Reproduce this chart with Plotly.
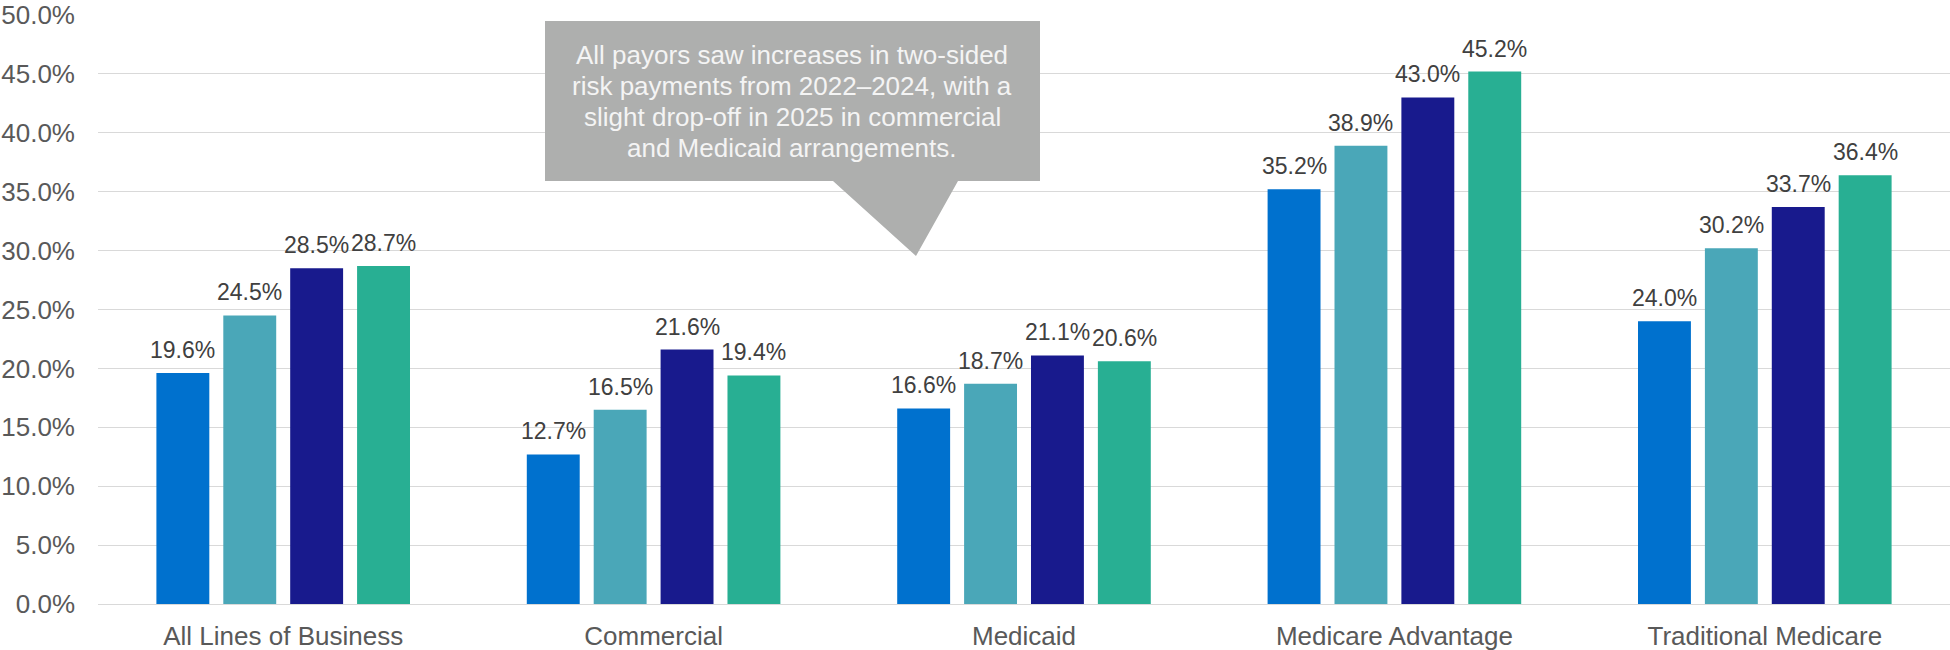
import plotly.graph_objects as go

# Share of payments under two-sided risk arrangements, by line of business
categories = ["All Lines of Business", "Commercial", "Medicaid",
              "Medicare Advantage", "Traditional Medicare"]
years = ["2022", "2023", "2024", "2025"]
values_2022 = [19.6, 12.7, 16.6, 35.2, 24.0]
values_2023 = [24.5, 16.5, 18.7, 38.9, 30.2]
values_2024 = [28.5, 21.6, 21.1, 43.0, 33.7]
values_2025 = [28.7, 19.4, 20.6, 45.2, 36.4]
series_values = [values_2022, values_2023, values_2024, values_2025]
series_colors = ["#0071CE", "#4AA7B8", "#181A8D", "#28AF93"]

callout_lines = [
    "All payors saw increases in two-sided",
    "risk payments from 2022\u20132024, with a",
    "slight drop-off in 2025 in commercial",
    "and Medicaid arrangements.",
]

W, H = 1950, 650
M_L, M_R, M_T, M_B = 98, 0, 15, 46
PLOT_W = W - M_L - M_R
PLOT_H = H - M_T - M_B
FONT = "Arial, 'Liberation Sans', sans-serif"

BARGAP = 0.2776
BARGROUPGAP = 0.209
X_RANGE = [-0.5, 4.5]


def px_to_paper(px, py):
    """Convert a page pixel position to paper coordinates."""
    return (px - M_L) / PLOT_W, (H - M_B - py) / PLOT_H


fig = go.Figure()
for name, vals, color in zip(years, series_values, series_colors):
    fig.add_trace(go.Bar(
        name=name,
        x=categories,
        y=vals,
        marker=dict(color=color, line=dict(width=0)),
    ))

# Value labels above each bar, offset to the bar's slot within its group
n_series = len(series_values)
slot_px = (1 - BARGAP) / n_series * PLOT_W / (X_RANGE[1] - X_RANGE[0])
for i, vals in enumerate(series_values):
    for cat, v in zip(categories, vals):
        fig.add_annotation(
            x=cat, y=v, xref="x", yref="y",
            text=f"{v:.1f}%", showarrow=False,
            xanchor="center", yanchor="bottom",
            xshift=(i - (n_series - 1) / 2) * slot_px, yshift=8,
            font=dict(family=FONT, size=23, color="#404040"),
        )

# Callout box with a downward pointer
box = [(545, 21), (1040, 21), (1040, 181), (958, 181), (916, 256),
       (833, 181), (545, 181)]
pts = [px_to_paper(x, y) for x, y in box]
path = "M " + " L ".join(f"{x:.5f},{y:.5f}" for x, y in pts) + " Z"
fig.add_shape(type="path", path=path, xref="paper", yref="paper",
              fillcolor="#AEAFAE", line=dict(width=0), layer="above")

baselines = [63, 94, 125, 156]
for line, base in zip(callout_lines, baselines):
    ax, ay = px_to_paper(792, base - 8)
    fig.add_annotation(
        text=line, x=ax, y=ay, xref="paper", yref="paper",
        xanchor="center", yanchor="middle", showarrow=False,
        font=dict(family=FONT, size=26, color="#F4F4F4"),
    )

fig.update_layout(
    width=W, height=H,
    margin=dict(l=M_L, r=M_R, t=M_T, b=M_B, pad=0),
    paper_bgcolor="white", plot_bgcolor="white",
    barmode="group",
    bargap=BARGAP,
    bargroupgap=BARGROUPGAP,
    showlegend=False,
    font=dict(family=FONT, color="#595959"),
    xaxis=dict(
        range=X_RANGE,
        showgrid=False, showline=True, linecolor="#D9D9D9", linewidth=1,
        ticks="", tickfont=dict(family=FONT, size=26, color="#595959"),
        ticklabelstandoff=9,
    ),
    yaxis=dict(
        range=[0, 50], dtick=5, tickformat=".1f", ticksuffix="%",
        showgrid=True, gridcolor="#D9D9D9", gridwidth=1,
        zeroline=False, showline=False, ticks="",
        tickfont=dict(family=FONT, size=26, color="#595959"),
        ticklabelstandoff=22,
    ),
)

fig.write_html("out.html")
